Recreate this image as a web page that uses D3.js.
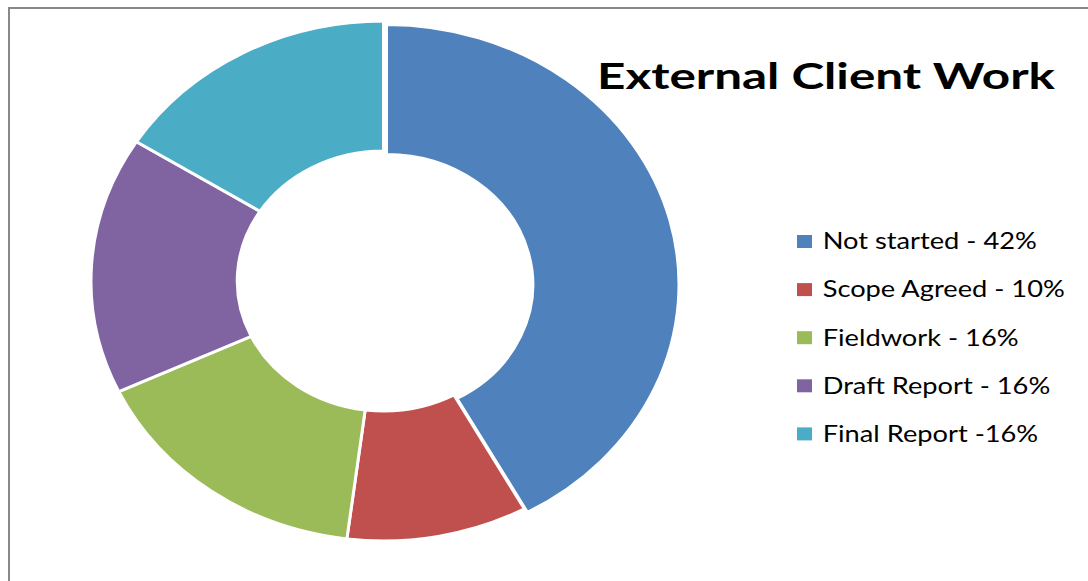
<!DOCTYPE html>
<html>
<head>
<meta charset="utf-8">
<script src="https://cdn.jsdelivr.net/npm/d3@7"></script>
<style>
  html, body { margin: 0; padding: 0; background: #fff; }
</style>
</head>
<body>
<script>
// data
const categories = ["Not started", "Scope Agreed", "Fieldwork", "Draft Report", "Final Report"];
const values = [42, 10, 16, 16, 16];
const legendLabels = ["Not started - 42%", "Scope Agreed - 10%", "Fieldwork - 16%", "Draft Report - 16%", "Final Report -16%"];
const colors = ["#4F81BD", "#C0504D", "#9BBB59", "#8064A2", "#4BACC6"];
const title = "External Client Work";

const w = 1088;
const h = 581;
const sx = 1.125; // picture is stretched a bit horizontally

const svg = d3.select("body")
  .append("svg")
  .attr("width", w)
  .attr("height", h);

// chart frame
svg.append("rect")
  .attr("x", 9)
  .attr("y", 8)
  .attr("width", 1200)
  .attr("height", 700)
  .style("fill", "none")
  .style("stroke", "#888")
  .style("stroke-width", 2);

const pie = d3.pie().sort(null).value(d => d);
const arc = d3.arc().innerRadius(130).outerRadius(260);

const donut = svg.append("g")
  .attr("transform", `translate(383.5,281) scale(${sx},1)`);

donut.selectAll("path")
  .data(pie(values))
  .enter()
  .append("path")
  .attr("d", arc)
  // first slice is pulled out slightly
  .attr("transform", (d, i) => i === 0 ? `translate(${3 / sx},3.5)` : null)
  .style("fill", (d, i) => colors[i])
  .style("stroke", "#fff")
  .style("stroke-width", 3)
  .attr("vector-effect", "non-scaling-stroke");

// title
svg.append("text")
  .attr("x", 597)
  .attr("y", 89)
  .attr("textLength", 458)
  .attr("lengthAdjust", "spacingAndGlyphs")
  .style("font-family", "Lato, 'Open Sans', sans-serif")
  .style("font-weight", "bold")
  .style("font-size", "37px")
  .style("fill", "#000")
  .text(title);

// legend
const legend = svg.selectAll(".legend")
  .data(categories)
  .enter()
  .append("g")
  .attr("class", "legend")
  .attr("transform", (d, i) => `translate(797,${249.3 + i * 48.1})`);

legend.append("rect")
  .attr("x", 0)
  .attr("y", -14.3)
  .attr("width", 15)
  .attr("height", 13)
  .style("fill", (d, i) => colors[i]);

legend.append("text")
  .attr("transform", "translate(25.7,0) scale(1.185,1)")
  .style("font-family", "Lato, 'Open Sans', sans-serif")
  .style("font-size", "23px")
  .style("fill", "#000")
  .text((d, i) => legendLabels[i]);
</script>
</body>
</html>
